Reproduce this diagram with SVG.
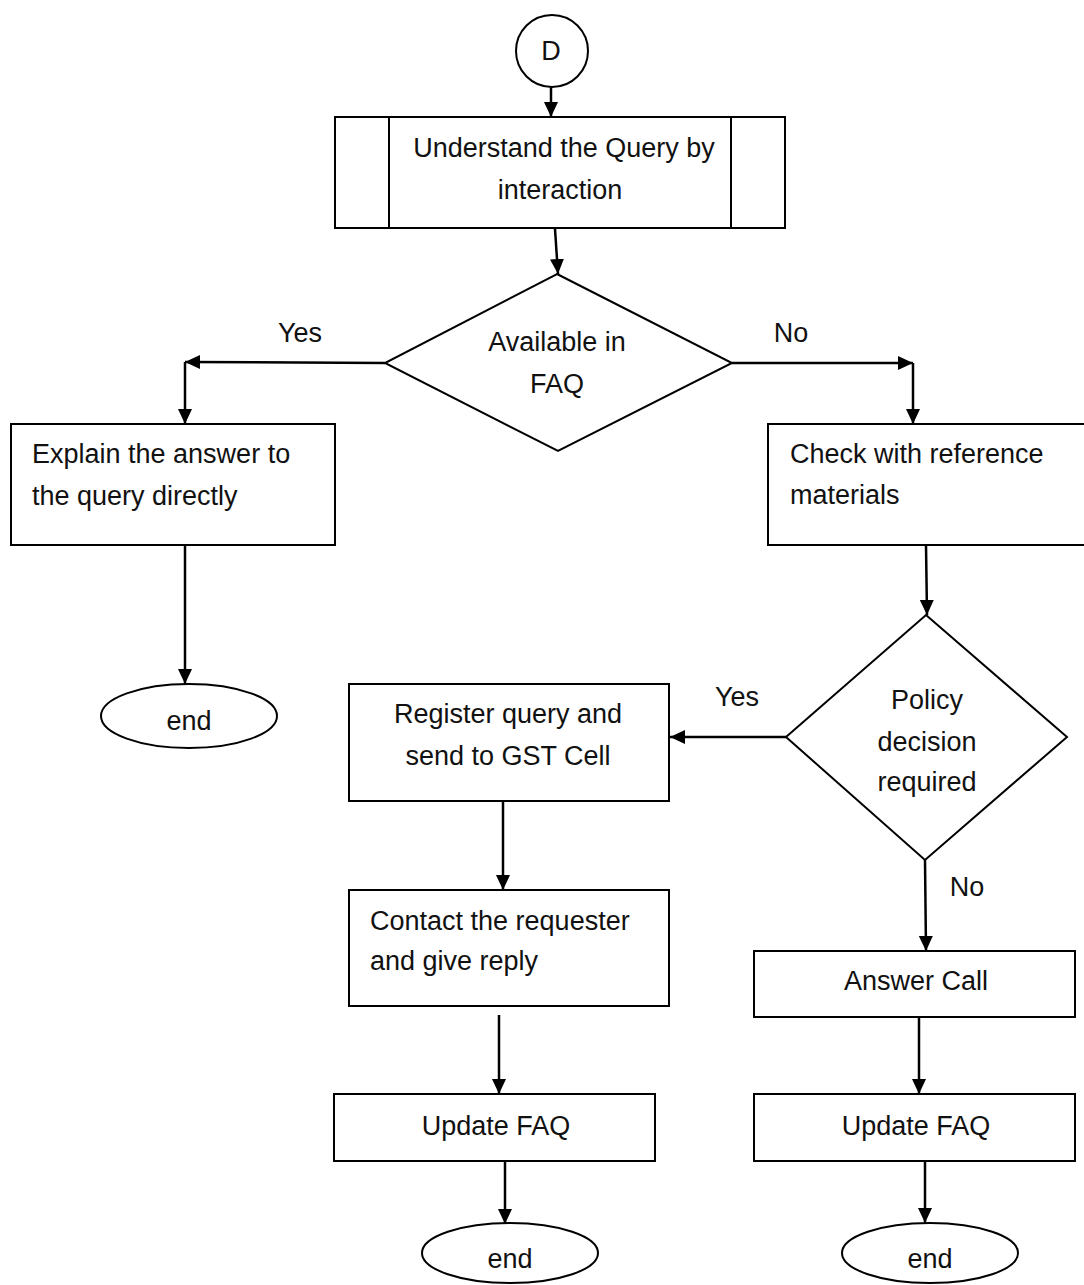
<svg xmlns="http://www.w3.org/2000/svg" width="1084" height="1285" viewBox="0 0 1084 1285">
  <defs>
    <marker id="arrow" markerUnits="userSpaceOnUse" markerWidth="16" markerHeight="16" viewBox="0 0 16 16" refX="15" refY="8" orient="auto">
      <path d="M0,1 L15,8 L0,15 Z" fill="#000"/>
    </marker>
  </defs>
  <style>
    .shape { fill: #fff; stroke: #000; stroke-width: 2; }
    .edge { fill: none; stroke: #000; stroke-width: 2.5; marker-end: url(#arrow); }
    text { font-family: "Liberation Sans", Arial, sans-serif; font-size: 27px; fill: #111; }
    .c { text-anchor: middle; }
  </style>
  <rect width="1084" height="1285" fill="#fff"/>

  <!-- connectors -->
  <g id="connectors">
    <path class="edge" d="M551,87 L551,117"/>
    <path class="edge" d="M555,229 L558,274"/>
    <path class="edge" d="M385,363 L185,362"/>
    <path class="edge" d="M185,362 L185,424"/>
    <path class="edge" d="M732,363 L913,363"/>
    <path class="edge" d="M913,363 L913,424"/>
    <path class="edge" d="M185,545 L185,684"/>
    <path class="edge" d="M926,545 L927,615"/>
    <path class="edge" d="M786,737 L670,737"/>
    <path class="edge" d="M925,860 L926,951"/>
    <path class="edge" d="M503,801 L503,890"/>
    <path class="edge" d="M499,1015 L499,1094"/>
    <path class="edge" d="M505,1161 L505,1224"/>
    <path class="edge" d="M919,1017 L919,1094"/>
    <path class="edge" d="M925,1161 L925,1223"/>
  </g>

  <!-- edge labels -->
  <g id="labels">
    <text class="c" x="300" y="342">Yes</text>
    <text class="c" x="791" y="342">No</text>
    <text class="c" x="737" y="706">Yes</text>
    <text class="c" x="967" y="896">No</text>
  </g>

  <g id="start">
    <circle class="shape" cx="552" cy="51" r="36"/>
    <text class="c" x="551" y="60">D</text>
  </g>

  <g id="understand">
    <rect class="shape" x="335" y="117" width="450" height="111"/>
    <line class="shape" x1="389" y1="117" x2="389" y2="228"/>
    <line class="shape" x1="731" y1="117" x2="731" y2="228"/>
    <text class="c" x="564" y="157">Understand the Query by</text>
    <text class="c" x="560" y="199">interaction</text>
  </g>

  <g id="faq-check">
    <polygon class="shape" points="557,274 732,363 558,451 385,363"/>
    <text class="c" x="557" y="351">Available in</text>
    <text class="c" x="557" y="393">FAQ</text>
  </g>

  <g id="explain">
    <rect class="shape" x="11" y="424" width="324" height="121"/>
    <text x="32" y="463">Explain the answer to</text>
    <text x="32" y="505">the query directly</text>
  </g>

  <g id="end-left">
    <ellipse class="shape" cx="189" cy="716" rx="88" ry="32"/>
    <text class="c" x="189" y="730">end</text>
  </g>

  <g id="reference">
    <rect class="shape" x="768" y="424" width="320" height="121"/>
    <text x="790" y="463">Check with reference</text>
    <text x="790" y="504">materials</text>
  </g>

  <g id="policy">
    <polygon class="shape" points="926,615 1067,737 925,860 786,737"/>
    <text class="c" x="927" y="709">Policy</text>
    <text class="c" x="927" y="751">decision</text>
    <text class="c" x="927" y="791">required</text>
  </g>

  <g id="register">
    <rect class="shape" x="349" y="684" width="320" height="117"/>
    <text class="c" x="508" y="723">Register query and</text>
    <text class="c" x="508" y="765">send to GST Cell</text>
  </g>

  <g id="contact">
    <rect class="shape" x="349" y="890" width="320" height="116"/>
    <text x="370" y="930">Contact the requester</text>
    <text x="370" y="970">and give reply</text>
  </g>

  <g id="update-left">
    <rect class="shape" x="334" y="1094" width="321" height="67"/>
    <text class="c" x="496" y="1135">Update FAQ</text>
  </g>

  <g id="end-middle">
    <ellipse class="shape" cx="510" cy="1253" rx="88" ry="30"/>
    <text class="c" x="510" y="1268">end</text>
  </g>

  <g id="answer">
    <rect class="shape" x="754" y="951" width="321" height="66"/>
    <text class="c" x="916" y="990">Answer Call</text>
  </g>

  <g id="update-right">
    <rect class="shape" x="754" y="1094" width="321" height="67"/>
    <text class="c" x="916" y="1135">Update FAQ</text>
  </g>

  <g id="end-right">
    <ellipse class="shape" cx="930" cy="1253" rx="88" ry="30"/>
    <text class="c" x="930" y="1268">end</text>
  </g>
</svg>
